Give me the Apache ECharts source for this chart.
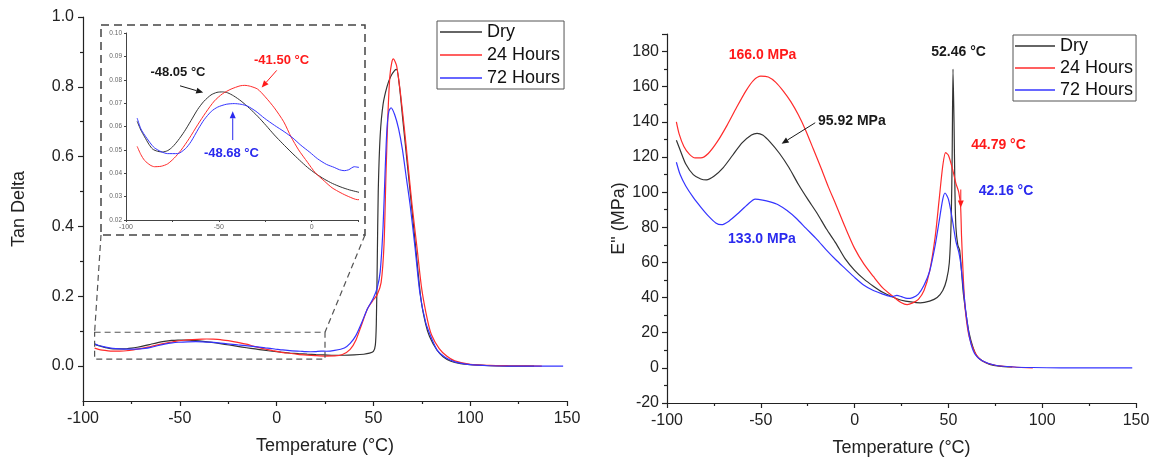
<!DOCTYPE html>
<html><head><meta charset="utf-8">
<script src="https://cdn.jsdelivr.net/npm/echarts@6/dist/echarts.min.js"></script>
<style>html,body{margin:0;padding:0;background:#fff}#c{width:1156px;height:462px}</style>
</head><body><div id="c"></div>
<script>
// ---------- data ----------
const seriesNames = ['Dry', '24 Hours', '72 Hours'];
// Tan Delta vs Temperature (°C)
const tanDry = [[-94,0.0622],[-92,0.0585],[-90,0.0556],[-87.5,0.0522],[-85.6,0.0503],[-83,0.0494],[-80.3,0.0491],[-77.5,0.0497],[-74.9,0.0513],[-72,0.054],[-68.6,0.0578],[-65,0.0625],[-61.4,0.0673],[-58,0.0708],[-54.2,0.0735],[-51,0.0746],[-48,0.0748],[-45.2,0.0744],[-42,0.0731],[-38,0.0709],[-33.5,0.0678],[-29.1,0.0644],[-24.5,0.0604],[-20.1,0.0564],[-15.5,0.0526],[-11.1,0.0491],[-6.5,0.0456],[-2.2,0.0425],[2.3,0.0398],[6.8,0.0375],[11.3,0.0356],[15.8,0.0341],[20.3,0.0329],[24.8,0.032],[30,0.031],[35,0.031],[40,0.032],[45,0.034],[48,0.037],[50,0.042],[51,0.06],[51.5,0.12],[52,0.3],[52.5,0.5],[53.5,0.66],[55,0.75],[57,0.80],[59,0.83],[61,0.847],[62,0.85],[63.5,0.80],[65.3,0.70],[67.5,0.58],[69.4,0.476],[72,0.33],[74.6,0.19],[77,0.12],[79,0.085],[82.8,0.046],[86,0.027],[90,0.014],[95,0.007],[100,0.004],[110,0.001],[120,0],[133,0]];
const tanH24 = [[-94,0.0515],[-92,0.048],[-90,0.0455],[-87,0.0435],[-84.7,0.0428],[-81,0.043],[-77.6,0.044],[-74,0.0465],[-70.4,0.0498],[-66,0.0548],[-61.4,0.0607],[-57,0.066],[-52.4,0.0709],[-48,0.074],[-43.4,0.076],[-38.5,0.0774],[-36,0.0776],[-33,0.0772],[-29.1,0.076],[-25,0.0727],[-20.1,0.068],[-15,0.062],[-11.1,0.0556],[-7,0.05],[-2.2,0.0447],[2,0.0402],[6.8,0.0367],[11,0.0338],[15.8,0.0316],[20,0.03],[24.8,0.0287],[30,0.029],[34,0.033],[38,0.048],[41,0.075],[44,0.12],[47,0.165],[50,0.19],[52,0.205],[54,0.24],[55.5,0.35],[56.5,0.55],[57.5,0.72],[58.5,0.83],[59.5,0.87],[60.3,0.88],[62,0.86],[64,0.78],[66,0.68],[68,0.57],[70,0.46],[72.5,0.34],[75,0.22],[78,0.13],[80,0.09],[84,0.05],[88,0.028],[92,0.015],[100,0.005],[110,0.002],[120,0.001],[137,0]];
const tanH72 = [[-94,0.0636],[-92,0.059],[-90,0.0564],[-87,0.053],[-84.7,0.0509],[-81,0.0492],[-77.6,0.0484],[-72.2,0.0484],[-68,0.0505],[-65,0.0535],[-61,0.059],[-57.9,0.0629],[-54,0.0665],[-50.6,0.0683],[-46,0.0695],[-41.7,0.0698],[-38,0.0695],[-34.5,0.0687],[-30,0.0665],[-25.5,0.0636],[-20,0.0605],[-14.8,0.0578],[-10,0.055],[-5.8,0.052],[-1,0.049],[3.2,0.0462],[8,0.0438],[12.2,0.0425],[15,0.0415],[17.6,0.0411],[20,0.0415],[23,0.0428],[25.7,0.0425],[30,0.045],[35,0.052],[38,0.065],[41,0.088],[44,0.125],[47,0.165],[50,0.195],[52,0.225],[53.5,0.27],[55,0.40],[56,0.55],[57,0.68],[58,0.73],[59.1,0.74],[61,0.72],[63,0.68],[65,0.62],[67,0.54],[69,0.46],[71.5,0.34],[74,0.21],[77,0.125],[80,0.08],[83,0.045],[87,0.025],[92,0.012],[100,0.004],[110,0.001],[120,0],[148,0]];
// Loss modulus E'' (MPa) vs Temperature (°C)
const eDry = [[-95,129.5],[-93,124],[-90,116],[-86,110],[-82,107.5],[-79,107],[-75,109],[-70,114],[-65,121],[-60,128],[-55,132.5],[-52,133.5],[-49,132.5],[-45,128.5],[-40,122],[-35,114],[-30,104.5],[-25,96],[-20,88],[-15,79],[-10,71],[-5,62],[0,55.5],[5,50.5],[10,46.5],[15,43],[20,40.5],[25,38.5],[30,37.5],[35,37],[40,38],[44,40],[47,44],[49,50],[50.5,60],[51.5,85],[52,120],[52.46,170],[53,140],[53.5,100],[54,80],[55,70],[56,67],[57,55],[58,42],[59.5,30],[61,20],[63,12],[65,7],[68,4],[72,2],[77,1],[84,0.5]];
const eH24 = [[-95,140],[-93.5,133],[-91,126],[-88,121.5],[-85,119.5],[-82,119.5],[-78,122],[-73,129],[-68,138],[-63,148],[-58,157.5],[-54,163.5],[-50,166],[-46,165.5],[-42,162.5],[-38,157.5],[-34,151.5],[-30,144],[-26,135],[-22,124.5],[-18,114],[-14,103],[-10,93],[-5,80],[0,68],[5,59],[10,52],[15,45.5],[20,41],[25,37],[28,36],[31,37],[34,39],[37,44],[40,55],[43,75],[45,95],[47,115],[48.5,122.5],[50,121],[52,114],[54,105],[55.5,100],[56.5,92],[57,75],[58,50],[59,33],[61,18],[64,9],[68,4],[75,1.5],[85,0.5],[95,0]];
const eH72 = [[-95,117],[-93,110],[-90,103.5],[-86,97],[-82,91.5],[-78,86.5],[-74,82.5],[-71,81.5],[-67,83.5],[-62,88],[-57,93],[-53,96],[-49,95.5],[-45,94.5],[-41,93],[-36,89.5],[-31,85],[-26,79.5],[-20,73],[-15,67],[-10,61.5],[-5,56.5],[0,51.5],[5,47],[10,44],[15,42],[20,40.5],[22.5,41.3],[25,40.5],[28,39.5],[31,40],[34,42],[37,47],[40,55],[43,70],[45,83],[47,96],[48.2,99.5],[50,96],[52,85],[54,72],[55.5,66],[56.5,60],[58,45],[59.5,30],[61.5,16],[64,8],[68,4],[75,1.5],[85,0.5],[95,0.2],[110,0],[148,0]];
// tick labels
const tanLabels = [0, 0.2, 0.4, 0.6, 0.8, 1.0];
const tanMinor = [0.1, 0.3, 0.5, 0.7, 0.9];
// zoomed region drawn in the inset
const zoomX = [-94, 25];
const zoomY = [0.02, 0.097];
// annotations (data coords)
const insetNotes = [
  {text: '-48.05 °C', s: 0, at: [-72, 0.0832], arrow: [[-70.9, 0.0774], [-58.4, 0.0745]]},
  {text: '-41.50 °C', s: 1, at: [-16.2, 0.0884], arrow: [[-18.8, 0.084], [-26.9, 0.0767]]},
  {text: '-48.68 °C', s: 2, at: [-43.2, 0.0484], arrow: [[-42.5, 0.0542], [-42.5, 0.0665]]}
];
const rightNotes = [
  {text: '166.0 MPa', s: 1, at: [-49.1, 178.1]},
  {text: '95.92 MPa', s: 0, at: [-19.5, 140.2], align: 'left', arrow: [[-21, 139.5], [-38.9, 127.6]]},
  {text: '133.0 MPa', s: 2, at: [-49.4, 73.1]},
  {text: '52.46 °C', s: 0, at: [55.4, 179.8]},
  {text: '44.79 °C', s: 1, at: [76.7, 126.6]},
  {text: '42.16 °C', s: 2, at: [80.7, 100.5]},
  {s: 1, arrow: [[56.6, 101.5], [56.6, 91.2]]}
];

// ---------- style ----------
const colors = ['#333333', '#ff2b2b', '#3434ff'];
const textColors = ['#1a1a1a', '#ff1a1a', '#2a2aee'];
const FONT = '"Liberation Sans", Arial, sans-serif';
const axisCol = '#222';

function xAx(grid, min, max, opts) {
  return Object.assign({
    type: 'value', gridIndex: grid, min: min, max: max, interval: 50,
    axisLine: {onZero: false, lineStyle: {color: axisCol, width: 1.2}},
    axisTick: {length: 5, lineStyle: {color: axisCol, width: 1.2}},
    minorTick: {show: true, splitNumber: 2, length: 3, lineStyle: {color: axisCol, width: 1.2}},
    splitLine: {show: false},
    axisLabel: {fontFamily: FONT, fontSize: 16, color: axisCol, margin: 10},
    name: 'Temperature (°C)', nameLocation: 'middle', nameGap: 36,
    nameTextStyle: {fontFamily: FONT, fontSize: 18, color: axisCol}
  }, opts || {});
}

const chart = echarts.init(document.getElementById('c'), null, {renderer: 'canvas'});

function lineSeries(name, data, idx, xi, yi, w) {
  return {
    type: 'line', name: name, data: data, xAxisIndex: xi, yAxisIndex: yi,
    showSymbol: false, smooth: 0.25, clip: true,
    lineStyle: {color: colors[idx], width: w}, itemStyle: {color: colors[idx]},
    emphasis: {disabled: true}
  };
}

const legendBase = {
  orient: 'vertical', icon: 'rect', itemHeight: 1.5,
  borderColor: '#555', borderWidth: 1, borderRadius: 0,
  textStyle: {fontFamily: FONT, fontSize: 18, color: '#111'},
  data: seriesNames, selectedMode: false
};

const option = {
  animation: false,
  backgroundColor: '#fff',
  grid: [
    {left: 83, right: 589, top: 17, bottom: 61},
    {left: 126, top: 33, width: 232, height: 187},
    {left: 667, right: 20, top: 34, bottom: 58}
  ],
  legend: [
    Object.assign({}, legendBase, {left: 437, top: 21, itemWidth: 42, itemGap: 5, padding: [2, 4, 2, 3]}),
    Object.assign({}, legendBase, {left: 1013, top: 35, itemWidth: 40, itemGap: 4, padding: [2, 3, 2, 2]})
  ],
  xAxis: [
    xAx(0, -100, 150),
    {
      type: 'value', gridIndex: 1, min: -100, max: 25, interval: 25,
      axisLine: {onZero: false, lineStyle: {color: '#444', width: 1}},
      axisTick: {length: 2, lineStyle: {color: '#444'}},
      splitLine: {show: false},
      axisLabel: {fontFamily: FONT, fontSize: 7, color: '#666', margin: 4,
        formatter: v => (Math.abs(v % 50) < 1e-6 ? String(v) : '')}
    },
    xAx(2, -100, 150, {nameGap: 36})
  ],
  yAxis: [
    {
      type: 'value', gridIndex: 0, min: -0.1, max: 1.0, interval: 0.1, position: 'left',
      axisLine: {show: true, onZero: false, lineStyle: {color: axisCol, width: 1.2}},
      axisTick: {show: true, length: 5, customValues: tanLabels, lineStyle: {color: axisCol, width: 1.2}},
      splitLine: {show: false},
      axisLabel: {customValues: tanLabels, fontFamily: FONT, fontSize: 16, color: axisCol, margin: 9,
        formatter: v => v.toFixed(1)},
      name: 'Tan Delta', nameLocation: 'middle', nameGap: 55, nameRotate: 90,
      nameTextStyle: {fontFamily: FONT, fontSize: 18, color: axisCol}
    },
    {
      type: 'value', gridIndex: 0, min: -0.1, max: 1.0, interval: 0.1, position: 'left', offset: 0,
      axisLine: {show: false, onZero: false},
      axisTick: {show: true, length: 3, customValues: tanMinor, lineStyle: {color: axisCol, width: 1.2}},
      axisLabel: {show: false}, splitLine: {show: false}
    },
    {
      type: 'value', gridIndex: 1, min: 0.02, max: 0.10, interval: 0.01,
      axisLine: {show: true, onZero: false, lineStyle: {color: '#444', width: 1}},
      axisTick: {length: 2, lineStyle: {color: '#444'}},
      splitLine: {show: false},
      axisLabel: {fontFamily: FONT, fontSize: 6.5, color: '#666', margin: 4, formatter: v => v.toFixed(2)}
    },
    {
      type: 'value', gridIndex: 2, min: -20, max: 190, interval: 20,
      axisLine: {show: true, onZero: false, lineStyle: {color: axisCol, width: 1.2}},
      axisTick: {length: 5, lineStyle: {color: axisCol, width: 1.2}},
      minorTick: {show: true, splitNumber: 2, length: 3, lineStyle: {color: axisCol, width: 1.2}},
      splitLine: {show: false},
      axisLabel: {fontFamily: FONT, fontSize: 16, color: axisCol, margin: 8, showMaxLabel: false},
      name: 'E" (MPa)', nameLocation: 'middle', nameGap: 38, nameRotate: 90,
      nameTextStyle: {fontFamily: FONT, fontSize: 18, color: axisCol}
    }
  ],
  series: [
    lineSeries(seriesNames[0], tanDry, 0, 0, 0, 1.2),
    lineSeries(seriesNames[1], tanH24, 1, 0, 0, 1.2),
    lineSeries(seriesNames[2], tanH72, 2, 0, 0, 1.2),
    lineSeries(seriesNames[0], tanDry, 0, 1, 2, 1),
    lineSeries(seriesNames[1], tanH24, 1, 1, 2, 1),
    lineSeries(seriesNames[2], tanH72, 2, 1, 2, 1),
    lineSeries(seriesNames[0], eDry, 0, 2, 3, 1.2),
    lineSeries(seriesNames[1], eH24, 1, 2, 3, 1.2),
    lineSeries(seriesNames[2], eH72, 2, 2, 3, 1.2)
  ]
};
chart.setOption(option);

// ---------- decorations computed from the axes ----------
function px(grid, p) { return chart.convertToPixel({gridIndex: grid}, p); }
function arrowEls(a, b, color, w) {
  const dx = b[0] - a[0], dy = b[1] - a[1], L = Math.hypot(dx, dy) || 1;
  const ux = dx / L, uy = dy / L, hl = 7, hw = 3;
  const base = [b[0] - ux * hl, b[1] - uy * hl];
  return [
    {type: 'line', shape: {x1: a[0], y1: a[1], x2: base[0], y2: base[1]}, style: {stroke: color, lineWidth: w || 1}, z: 20},
    {type: 'polygon', shape: {points: [b, [base[0] - uy * hw, base[1] + ux * hw], [base[0] + uy * hw, base[1] - ux * hw]]}, style: {fill: color}, z: 20}
  ];
}
const g = [];
// inset frame (around inset grid)
const ib = chart.getModel().getComponent('grid', 1).coordinateSystem.getRect();
const frame = {x: ib.x - 25, y: ib.y - 8, w: ib.width + 32, h: ib.height + 23};
g.push({type: 'rect', shape: {x: frame.x, y: frame.y, width: frame.w, height: frame.h},
  style: {fill: null, stroke: '#444', lineWidth: 1.5, lineDash: [8, 5]}, z: 15});
// zoom region in main chart
const z0 = px(0, [zoomX[0], zoomY[1]]), z1 = px(0, [zoomX[1], zoomY[0]]);
g.push({type: 'rect', shape: {x: z0[0], y: z0[1], width: z1[0] - z0[0], height: z1[1] - z0[1]},
  style: {fill: null, stroke: '#555', lineWidth: 1.2, lineDash: [6, 4]}, z: 15});
const fb = frame.y + frame.h;
g.push({type: 'line', shape: {x1: frame.x, y1: fb, x2: z0[0], y2: z0[1]}, style: {stroke: '#555', lineWidth: 1.2, lineDash: [6, 4]}, z: 15});
g.push({type: 'line', shape: {x1: frame.x + frame.w, y1: fb, x2: z1[0], y2: z0[1]}, style: {stroke: '#555', lineWidth: 1.2, lineDash: [6, 4]}, z: 15});

function addNotes(notes, grid, fs) {
  notes.forEach(n => {
    if (n.text) {
      const p = px(grid, n.at);
      g.push({type: 'text', z: 20, style: {text: n.text, x: p[0], y: p[1], fill: textColors[n.s],
        font: 'bold ' + fs + 'px ' + FONT, textAlign: n.align || 'center', textVerticalAlign: 'middle'}});
    }
    if (n.arrow) {
      arrowEls(px(grid, n.arrow[0]), px(grid, n.arrow[1]), textColors[n.s], 1).forEach(e => g.push(e));
    }
  });
}
addNotes(insetNotes, 1, 13);
addNotes(rightNotes, 2, 14);
chart.setOption({graphic: g});
</script>
</body></html>
